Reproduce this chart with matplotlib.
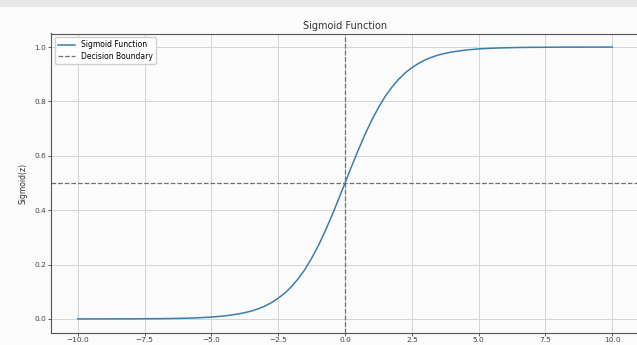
import matplotlib
matplotlib.use("Agg")
import matplotlib.pyplot as plt
from matplotlib.patches import Rectangle

# values (denser where it bends)
z_values = [-10.0, -9.0, -8.0, -7.0, -6.5, -6.0, -5.5, -5.0, -4.5,
            -4.0, -3.75, -3.5, -3.25, -3.0, -2.75, -2.5, -2.25, -2.0, -1.75,
            -1.5, -1.25, -1.0, -0.75, -0.5, -0.25, 0.0, 0.25, 0.5, 0.75,
            1.0, 1.25, 1.5, 1.75, 2.0, 2.25, 2.5, 2.75, 3.0, 3.25,
            3.5, 3.75, 4.0, 4.5, 5.0, 5.5, 6.0, 6.5, 7.0, 8.0, 9.0, 10.0]
sigmoid_values = [0.0000, 0.0001, 0.0003, 0.0009, 0.0015, 0.0025, 0.0041, 0.0067, 0.011,
                  0.018, 0.023, 0.029, 0.037, 0.047, 0.060, 0.076, 0.095, 0.119, 0.148,
                  0.182, 0.223, 0.269, 0.321, 0.378, 0.438, 0.500, 0.562, 0.622, 0.679,
                  0.731, 0.777, 0.818, 0.852, 0.881, 0.905, 0.924, 0.940, 0.953, 0.963,
                  0.971, 0.977, 0.982, 0.989, 0.9933, 0.9959, 0.9975, 0.9985, 0.9991, 0.9997, 0.9999, 1.0000]
boundary_x = 0.0
boundary_y = 0.5

fig = plt.figure(figsize=(6.37, 3.45), dpi=100)
fig.patch.set_facecolor("#fbfbfb")
# grey band of the screenshot at the top
fig.patches.append(Rectangle((0, 0.98), 1, 0.02, transform=fig.transFigure,
                             facecolor="#e8e8e8", edgecolor="none"))

ax = fig.add_axes([51 / 637, 12.5 / 345, 588 / 637, 299 / 345])
ax.set_facecolor("#fbfbfb")

ax.plot(z_values, sigmoid_values, color="#3a7fab", linewidth=1.1, label="Sigmoid Function")
ax.axvline(boundary_x, color="#707070", linestyle="--", linewidth=0.9, label="Decision Boundary")
ax.axhline(boundary_y, color="#707070", linestyle="--", linewidth=0.9)

ax.set_xlim(-11, 11)
ax.set_ylim(-0.05, 1.05)
ax.set_xticks([-10.0, -7.5, -5.0, -2.5, 0.0, 2.5, 5.0, 7.5, 10.0])
ax.set_yticks([0.0, 0.2, 0.4, 0.6, 0.8, 1.0])
ax.grid(True, color="#d4d4d4", linewidth=0.7)
ax.tick_params(labelsize=5.3, colors="#444444", length=2, width=0.6, pad=1.5)

for spine in ax.spines.values():
    spine.set_color("#555555")
    spine.set_linewidth(0.8)

ax.set_title("Sigmoid Function", fontsize=7, color="#333333", pad=3)
ax.set_ylabel("Sigmoid(z)", fontsize=5.5, color="#333333", labelpad=5)
ax.legend(loc="upper left", fontsize=5.5, framealpha=0.9, borderpad=0.4,
          handlelength=2.2, labelspacing=0.3, edgecolor="#cccccc")

plt.savefig("out.png", dpi=100, facecolor=fig.get_facecolor())
